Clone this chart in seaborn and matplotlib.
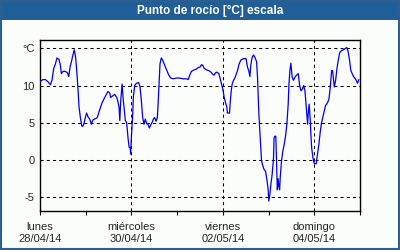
import numpy as np
import pandas as pd
import matplotlib
matplotlib.use("Agg")
import matplotlib.pyplot as plt
import matplotlib.dates as mdates
from matplotlib.patches import Rectangle
import seaborn as sns

# ---- data: hours since 28/04/14 00:00 and dew point (°C) ----
hours = [0.35, 1.6, 2.8, 4.2, 5.4, 6.3, 7.2, 8.1, 8.9, 10.0, 10.7, 11.2, 12.1, 13.3,
         14.4, 15.1, 15.8, 16.5, 17.3, 18.0, 18.7, 19.4, 20.0, 20.5, 21.2, 21.9,
         22.4, 23.1, 23.8, 24.5, 25.2, 26.1, 27.0, 27.8, 28.7, 30.1, 31.4, 32.6,
         34.0, 35.0, 35.7, 36.6, 37.1, 38.2, 39.2, 40.3, 41.0, 41.5,
         41.9, 42.4, 43.1, 43.6, 44.1, 44.8, 45.5, 46.2, 46.8, 47.3, 47.6, 48.0,
         48.3, 48.7, 49.0, 49.7, 50.6, 51.8, 52.5, 53.2, 53.9, 54.6, 55.3, 56.0,
         56.7, 57.4, 58.1, 58.8, 59.5, 60.2, 60.9, 61.6, 62.0, 62.5, 63.0, 63.7,
         64.6, 65.5, 66.6, 67.6, 68.7, 69.9, 71.6, 73.4, 75.1, 76.9, 77.8, 78.6,
         79.5, 80.9, 82.1, 83.0, 84.1, 84.8, 85.5, 86.2, 87.4, 88.6, 89.7, 90.7,
         91.4, 92.1, 92.8, 93.9, 94.6, 95.3, 96.0, 96.7, 97.4, 98.1, 98.4, 99.5,
         99.8, 100.4, 100.9, 101.6, 102.3, 103.0, 103.7, 104.4, 105.4, 106.8,
         108.2, 108.9, 109.6, 110.2, 110.7, 111.4, 112.1, 112.8, 113.7, 114.2,
         114.9, 115.6, 116.3, 117.0, 117.7, 118.4, 119.1, 119.8, 120.1, 120.7,
         121.2, 121.9, 122.6, 122.9, 123.3, 123.8, 124.2, 124.6, 125.0, 125.4,
         125.8, 126.1, 126.8, 127.5, 128.2, 128.9, 129.6, 130.3, 130.7, 131.2,
         131.7, 132.4, 133.1, 133.8, 134.7, 135.6, 136.3, 137.0, 137.7, 138.4,
         139.1, 139.8, 140.5, 140.8, 141.3, 141.9, 142.2, 142.6, 143.3, 144.0,
         145.0, 145.7, 146.4, 147.1, 147.8, 148.9, 149.9, 151.0, 151.7, 152.4,
         153.1, 153.6, 154.1, 154.5, 155.2, 155.9, 156.6, 157.3, 158.3, 159.4,
         160.4, 161.1, 161.8, 162.5, 163.2, 163.9, 164.6, 165.3, 166.0, 166.7,
         167.4]
dew_point = [10.6, 10.8, 10.8, 10.5, 10.1, 10.7, 12.3, 12.9, 13.7, 13.5, 12.7, 11.6,
             11.9, 11.9, 11.7, 11.2, 12.5, 13.2, 14.1, 14.8, 13.8, 11.6, 9.3, 7.1,
             5.7, 4.6, 4.5, 4.9, 5.7, 6.3, 5.8, 5.5, 4.8, 5.4, 5.5, 5.7, 6.8, 7.7,
             8.4, 8.9, 9.2, 9.0, 8.4, 8.6, 8.8, 8.4, 7.7, 7.1,
             5.3, 8.0, 10.2, 8.4, 7.1, 5.3, 5.0, 3.0, 1.7, 1.7, 0.8, 3.2,
             4.4, 6.2, 8.4, 10.0, 10.3, 10.4, 9.8, 8.0, 5.7, 4.8, 5.5, 4.9,
             4.8, 4.3, 4.7, 5.0, 5.5, 5.7, 5.2, 5.7, 7.5, 10.2, 12.9, 13.7,
             13.3, 12.7, 12.0, 11.4, 11.0, 10.9, 11.0, 11.0, 10.9, 10.9, 10.8, 11.4,
             11.9, 12.1, 12.2, 12.4, 12.5, 12.8, 12.7, 12.3, 12.1, 12.0, 11.8, 11.5,
             11.4, 11.7, 11.8, 11.6, 10.9, 10.2, 9.5, 8.4, 7.7, 7.1, 6.3, 6.3,
             7.5, 9.3, 10.2, 10.7, 11.0, 11.5, 12.0, 12.8, 13.4, 13.6,
             13.6, 12.5, 12.0, 11.2, 12.8, 13.8, 14.1, 13.8, 13.2, 11.1,
             6.2, 3.0, -0.1, -0.8, -1.3, -1.5, -2.6, -4.0, -5.5, -4.6,
             -3.3, -1.9, 0.3, 3.0, 3.2, 3.2, -0.6, -4.0, -2.5, -3.5,
             -4.0, -2.4, -0.1, 1.2, 2.1, 3.2, 4.8, 7.5, 10.2, 12.0,
             13.0, 11.1, 10.7, 11.1, 11.4, 11.6, 10.0, 9.3, 9.5, 10.0,
             9.3, 7.1, 4.8, 6.2, 7.5, 5.3, 3.5, 1.7, 0.3, -0.5,
             -0.5, 0.8, 2.1, 3.7, 5.0, 6.2, 7.3, 7.7, 8.2, 9.8,
             12.0, 12.0, 10.7, 9.8, 10.7, 12.3, 13.4, 14.4, 14.7, 14.8,
             15.0, 15.1, 14.5, 13.4, 12.0, 11.6, 11.2, 11.0, 10.7, 10.3,
             10.8]
start_date = "2014-04-28"
end_date = "2014-05-05"
major_days = ["2014-04-28", "2014-04-30", "2014-05-02", "2014-05-04"]
minor_days = ["2014-04-29", "2014-05-01", "2014-05-03", "2014-05-05"]
x_labels = ["lunes\n28/04/14", "miércoles\n30/04/14", "viernes\n02/05/14", "domingo\n04/05/14"]
y_ticks = [-5, 0, 5, 10, 15]
y_labels = ["-5", "0", "5", "10", "°C"]
title = "Punto de rocío [°C] escala"

df = pd.DataFrame({
    "time": pd.Timestamp(start_date) + pd.to_timedelta(hours, unit="h"),
    "value": dew_point,
})

sns.set_style("white")
plt.rcParams["font.family"] = ["Liberation Sans", "DejaVu Sans"]

W, H = 400, 250
fig = plt.figure(figsize=(W / 100, H / 100), dpi=100, facecolor="#fbfdfb")

# title bar and frame
fig.patches.append(Rectangle((0, 1 - 20 / H), 1, 20 / H, transform=fig.transFigure,
                             facecolor="#1f5e97", edgecolor="none", zorder=0))
fig.patches.append(Rectangle((0.5 / W, 1 / H), 1 - 2 / W, 1 - 1.5 / H, transform=fig.transFigure,
                             facecolor="none", edgecolor="#2a5f90", linewidth=1.5, zorder=1))
fig.text(0.525, 1 - 10.5 / H, title, color="white", fontsize=8.5, fontweight="bold",
         ha="center", va="center")

ax = fig.add_axes([40 / W, 1 - 211 / H, 320 / W, 171 / H])
ax.set_facecolor("#fbfdfb")
sns.lineplot(data=df, x="time", y="value", ax=ax, color="#0000ee", linewidth=0.9,
             legend=False, zorder=3)

ax.set_xlim(pd.Timestamp(start_date), pd.Timestamp(end_date))
ax.set_ylim(-6.84, 16.11)
ax.set_xticks([pd.Timestamp(d) for d in major_days])
ax.set_xticklabels(x_labels)
ax.set_xticks([pd.Timestamp(d) for d in minor_days], minor=True)
ax.set_yticks(y_ticks)
ax.set_yticklabels(y_labels)
ax.set_xlabel("")
ax.set_ylabel("")

ax.tick_params(axis="x", which="both", direction="out", length=3, width=0.8,
               color="black", labelsize=8, pad=5, bottom=True)
ax.tick_params(axis="y", length=0, labelsize=8, pad=4)
for lab in ax.get_xticklabels():
    lab.set_linespacing(1.2)

ax.grid(True, which="major", color="black", linestyle=(0, (3, 3)), linewidth=0.75)
for s in ax.spines.values():
    s.set_visible(True)
    s.set_color("black")
    s.set_linewidth(1.0)

fig.savefig("out.png", dpi=100, facecolor=fig.get_facecolor())
